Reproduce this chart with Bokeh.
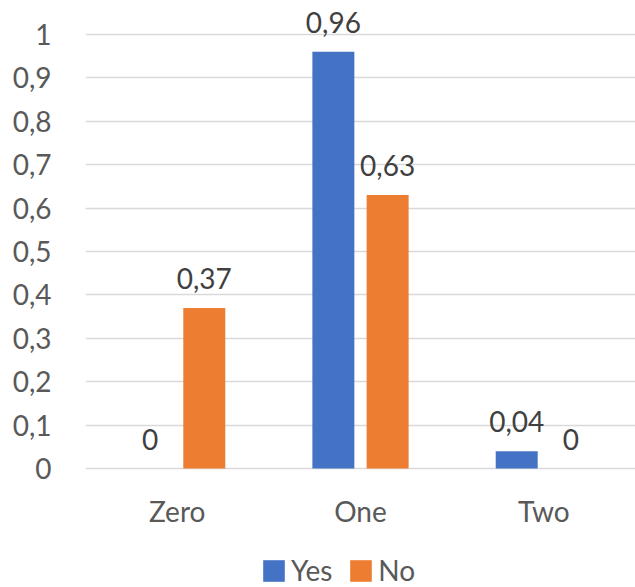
from bokeh.plotting import figure
from bokeh.models import ColumnDataSource, FactorRange, FixedTicker, CustomJSTickFormatter, Legend, LegendItem, Range1d
from bokeh.transform import dodge
from bokeh.core.properties import value
from bokeh.embed import file_html
from bokeh.resources import INLINE

categories = ["Zero", "One", "Two"]
yes_values = [0.0, 0.96, 0.04]
no_values = [0.37, 0.63, 0.0]
series_names = ["Yes", "No"]
y_ticks = [0, 0.1, 0.2, 0.3, 0.4, 0.5, 0.6, 0.7, 0.8, 0.9, 1.0]

def fmt(v):
    return ("%g" % v).replace(".", ",")

BLUE = "#4472C4"
ORANGE = "#ED7D31"
FONT = "Lato"
FS = "28px"

src = ColumnDataSource(dict(
    cat=categories,
    yes=yes_values,
    no=no_values,
    yes_lbl=[fmt(v) for v in yes_values],
    no_lbl=[fmt(v) for v in no_values],
))

W, H = 635, 587
p = figure(width=W, height=H, output_backend="svg", toolbar_location=None,
           x_range=FactorRange(*categories, range_padding=0),
           y_range=Range1d(-0.274, 1.078))
p.min_border_left = 85
p.min_border_right = 0
p.min_border_top = 0
p.min_border_bottom = 0
p.outline_line_color = None
p.background_fill_color = "white"
p.border_fill_color = "white"

bw = 0.229
off = 0.148
r_yes = p.vbar(x=dodge("cat", -off, range=p.x_range), top="yes", bottom=0, width=bw, source=src,
               fill_color=BLUE, line_color=None)
r_no = p.vbar(x=dodge("cat", off, range=p.x_range), top="no", bottom=0, width=bw, source=src,
              fill_color=ORANGE, line_color=None)

p.text(x=dodge("cat", -off, range=p.x_range), y="yes", text="yes_lbl", source=src,
       text_align="center", text_baseline="bottom", y_offset=-19,
       text_font=value(FONT), text_font_size=value(FS), text_color="#404040")
p.text(x=dodge("cat", off, range=p.x_range), y="no", text="no_lbl", source=src,
       text_align="center", text_baseline="bottom", y_offset=-19,
       text_font=value(FONT), text_font_size=value(FS), text_color="#404040")

# category labels (x axis labels) drawn below the baseline
p.text(x="cat", y=0, text="cat", source=src, text_align="center", text_baseline="middle",
       y_offset=42, text_font=value(FONT), text_font_size=value(FS), text_color="#595959")

# y axis
p.yaxis.ticker = FixedTicker(ticks=y_ticks)
p.yaxis.formatter = CustomJSTickFormatter(code="return (Math.round(tick*10)/10).toString().replace('.', ',');")
p.yaxis.axis_line_color = None
p.yaxis.major_tick_line_color = None
p.yaxis.minor_tick_line_color = None
p.yaxis.major_label_standoff = 28
p.yaxis.major_label_text_font = FONT
p.yaxis.major_label_text_font_size = FS
p.yaxis.major_label_text_color = "#595959"

p.xaxis.visible = False

p.xgrid.grid_line_color = None
p.ygrid.ticker = FixedTicker(ticks=y_ticks)
p.ygrid.grid_line_color = "#D9D9D9"
p.ygrid.grid_line_width = 1.5

legend = Legend(items=[LegendItem(label=series_names[0], renderers=[r_yes]),
                       LegendItem(label=series_names[1], renderers=[r_no])],
                orientation="horizontal", location=(175, 0))
legend.label_text_font = FONT
legend.label_text_font_size = FS
legend.label_text_color = "#595959"
legend.glyph_width = 27
legend.glyph_height = 27
legend.spacing = 15
legend.label_standoff = 4
legend.border_line_color = None
legend.background_fill_alpha = 0
legend.padding = 0
legend.margin = 0
p.add_layout(legend)

open("out.html", "w").write(file_html(p, INLINE))
